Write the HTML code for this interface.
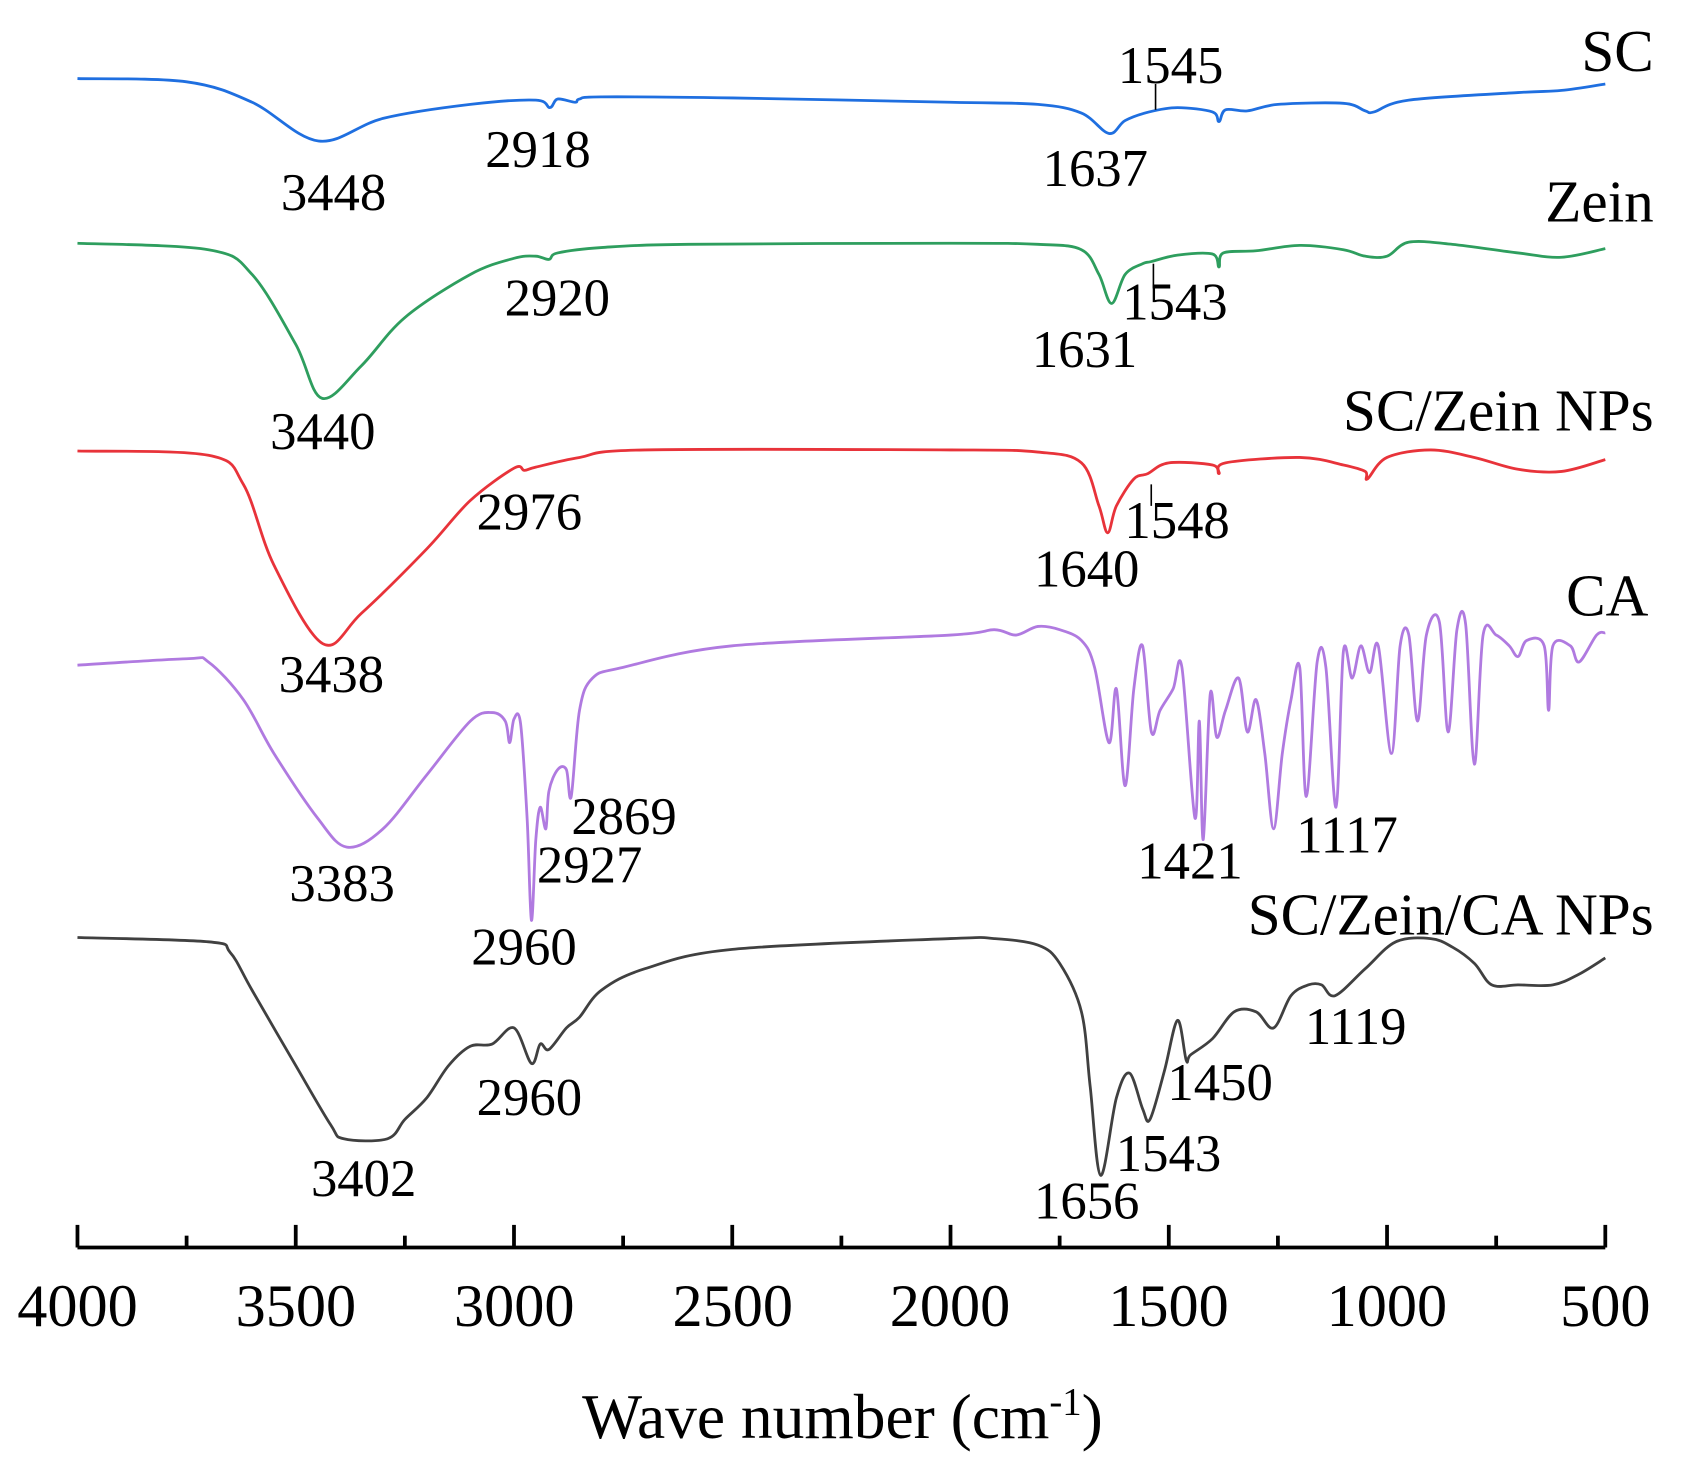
<!DOCTYPE html>
<html><head><meta charset="utf-8"><style>html,body{margin:0;padding:0;background:#fff}svg{display:block}</style></head>
<body>
<svg id="s" width="1686" height="1466" viewBox="0 0 1567 1362" preserveAspectRatio="none" xmlns="http://www.w3.org/2000/svg" font-family="'Liberation Serif', serif">
<g id="curves" fill="none" stroke-width="2.6" stroke-linejoin="round"></g>
<g stroke="#000" stroke-width="3.5" fill="none">
<line x1="72" y1="1159" x2="1492" y2="1159"/>
</g>
<g id="ticks" stroke="#000" stroke-width="3.5"></g>
<g font-size="56" text-anchor="middle" fill="#000">
<text x="72" y="1232">4000</text><text x="275" y="1232">3500</text><text x="478" y="1232">3000</text>
<text x="681" y="1232">2500</text><text x="883" y="1232">2000</text><text x="1086" y="1232">1500</text>
<text x="1289" y="1232">1000</text><text x="1492" y="1232">500</text>
</g>
<text x="783" y="1336" font-size="59" text-anchor="middle">Wave number (cm<tspan dy="-22" font-size="36">-1</tspan><tspan dy="22">)</tspan></text>
<g font-size="49" text-anchor="middle" fill="#000">
<text x="310" y="195">3448</text><text x="500" y="155">2918</text><text x="1018" y="173">1637</text><text x="1088" y="77">1545</text>
<text x="300" y="417">3440</text><text x="518" y="293">2920</text><text x="1008" y="341">1631</text><text x="1092" y="297">1543</text>
<text x="308" y="643">3438</text><text x="492" y="492">2976</text><text x="1010" y="545">1640</text><text x="1094" y="500">1548</text>
<text x="318" y="837">3383</text><text x="580" y="775">2869</text><text x="548" y="820">2927</text><text x="487" y="896">2960</text><text x="1106" y="816">1421</text><text x="1252" y="792">1117</text>
<text x="338" y="1111">3402</text><text x="492" y="1036">2960</text><text x="1010" y="1132">1656</text><text x="1086" y="1088">1543</text><text x="1134" y="1022">1450</text><text x="1260" y="970">1119</text>
</g>
<g font-size="55" text-anchor="end" fill="#000">
<text x="1537" y="66">SC</text><text x="1537" y="206">Zein</text><text x="1537" y="400">SC/Zein NPs</text><text x="1532" y="572">CA</text><text x="1537" y="868">SC/Zein/CA NPs</text>
</g>
<g stroke="#000" stroke-width="1.5">
<line x1="1074" y1="78" x2="1074" y2="102"/><line x1="1072" y1="245" x2="1072" y2="268"/><line x1="1070" y1="450" x2="1070" y2="470"/>
</g>
</svg>
<script>
const X=w=>72+(4000-w)*0.405714;
const S=[
["#1f6fe0",[[4000,73],[3750,76],[3600,95],[3448,131],[3300,110],[3100,97],[2950,93],[2918,100],[2900,92],[2860,95],[2850,92],[2800,90],[2500,91],[2000,95],[1800,97],[1700,105],[1637,124],[1600,112],[1545,104],[1480,100],[1400,104],[1385,113],[1370,102],[1320,103],[1250,97],[1100,96],[1050,103],[1030,104],[950,93],[700,86],[600,84],[500,78]]],
["#2e9e5e",[[4000,226],[3700,232],[3600,255],[3500,320],[3440,370],[3350,340],[3250,295],[3100,255],[3000,240],[2950,238],[2920,241],[2900,235],[2800,230],[2600,227],[2000,226],[1800,227],[1700,232],[1660,255],[1631,282],[1600,255],[1560,245],[1540,243],[1480,237],[1400,236],[1385,248],[1375,235],[1300,233],[1200,228],[1100,232],[1050,238],[1000,238],[950,225],[850,227],[700,235],[600,239],[500,231]]],
["#e8333a",[[4000,419],[3700,423],[3620,450],[3550,525],[3438,598],[3350,570],[3200,510],[3100,465],[3000,435],[2976,437],[2950,434],[2850,425],[2700,418],[2000,418],[1800,420],[1700,430],[1660,470],[1640,495],[1620,470],[1580,445],[1548,440],[1500,430],[1400,432],[1385,440],[1370,430],[1200,425],[1100,432],[1050,438],[1045,445],[1000,425],[900,418],[800,425],[700,436],[600,438],[500,427]]],
["#b07ae0",[[4000,618],[3750,612],[3700,615],[3620,650],[3550,700],[3450,760],[3383,787],[3300,770],[3200,720],[3100,670],[3050,662],[3020,670],[3010,690],[3000,668],[2985,672],[2970,760],[2960,855],[2950,780],[2940,750],[2927,770],[2920,735],[2900,715],[2880,715],[2869,740],[2850,660],[2820,630],[2750,620],[2500,600],[2000,590],[1900,585],[1850,590],[1800,582],[1750,585],[1700,595],[1670,620],[1637,690],[1620,640],[1600,730],[1580,640],[1560,600],[1540,680],[1520,660],[1490,640],[1470,620],[1440,760],[1430,670],[1421,780],[1405,645],[1390,685],[1370,660],[1340,630],[1320,680],[1300,650],[1280,700],[1260,770],[1240,700],[1220,650],[1200,620],[1185,740],[1160,615],[1140,620],[1117,750],[1100,605],[1080,630],[1060,600],[1040,625],[1020,600],[990,700],[970,600],[950,590],[930,670],[910,590],[880,578],[860,680],[840,585],[820,580],[800,710],[780,590],[750,590],[720,600],[700,610],[680,595],[640,600],[630,660],[620,600],[580,600],[560,615],[520,590],[500,588]]],
["#404040",[[4000,871],[3700,875],[3650,885],[3600,920],[3500,990],[3420,1045],[3390,1058],[3290,1058],[3250,1040],[3200,1020],[3150,990],[3100,972],[3050,970],[3000,955],[2960,988],[2940,970],[2920,975],[2880,955],[2850,945],[2800,920],[2700,900],[2500,882],[2000,872],[1900,872],[1800,878],[1750,895],[1700,940],[1680,1010],[1656,1092],[1620,1020],[1590,997],[1560,1030],[1543,1040],[1510,995],[1480,948],[1460,985],[1450,980],[1400,965],[1350,940],[1300,940],[1260,955],[1220,925],[1180,915],[1150,915],[1119,925],[1050,900],[980,875],[900,872],[850,880],[800,895],[760,915],[700,915],[620,915],[560,905],[500,890]]]
];
const NS="http://www.w3.org/2000/svg";
const g=document.getElementById("curves");
for(const [c,pts] of S){
  const P=pts.map(p=>[X(p[0]),p[1]]);
  let d="M"+P[0][0].toFixed(1)+","+P[0][1];
  for(let i=0;i<P.length-1;i++){
    const p0=P[Math.max(0,i-1)],p1=P[i],p2=P[i+1],p3=P[Math.min(P.length-1,i+2)];
    const t=1/6;
    d+=" C"+(p1[0]+(p2[0]-p0[0])*t).toFixed(1)+","+(p1[1]+(p2[1]-p0[1])*t).toFixed(1)+" "+(p2[0]-(p3[0]-p1[0])*t).toFixed(1)+","+(p2[1]-(p3[1]-p1[1])*t).toFixed(1)+" "+p2[0].toFixed(1)+","+p2[1];
  }
  const e=document.createElementNS(NS,"path");e.setAttribute("d",d);e.setAttribute("stroke",c);g.appendChild(e);
}
const tk=document.getElementById("ticks");
for(let w=4000;w>=500;w-=250){
  const l=document.createElementNS(NS,"line");const x=X(w);
  l.setAttribute("x1",x);l.setAttribute("x2",x);l.setAttribute("y1",w%500==0?1138:1148);l.setAttribute("y2",1159);
  tk.appendChild(l);
}
</script>
</body></html>
